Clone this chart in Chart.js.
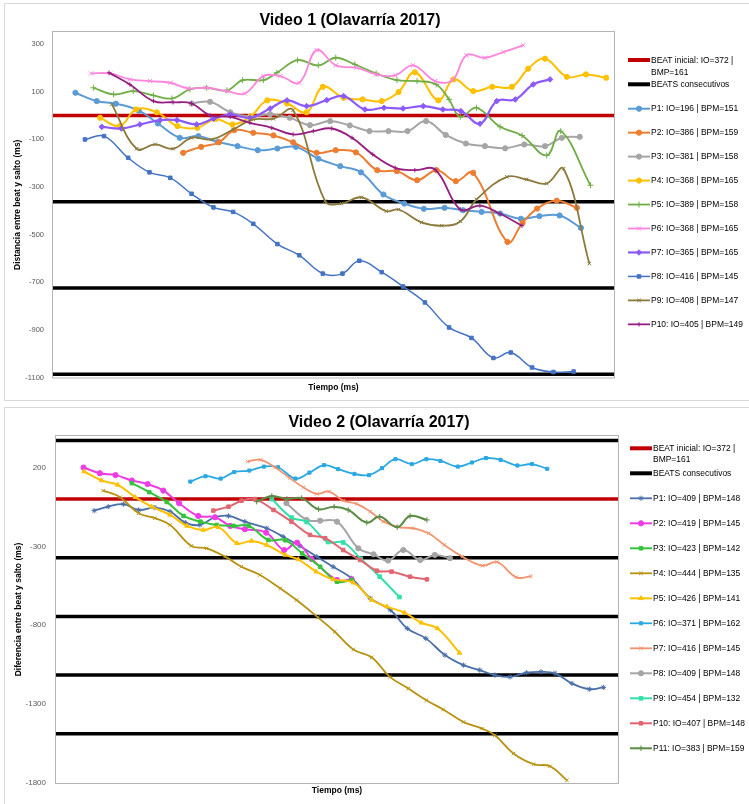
<!DOCTYPE html>
<html>
<head>
<meta charset="utf-8">
<script src="https://cdn.jsdelivr.net/npm/chart.js@4.4.1/dist/chart.umd.min.js"></script>
<style>
  html, body { margin: 0; padding: 0; background: #fff; overflow: hidden; }
  body { width: 749px; height: 804px; position: relative; }
  .panel { position: absolute; left: 4px; width: 760px; border: 1px solid #d9d9d9; }
  #panel1 { top: 3px; height: 396px; }
  #panel2 { top: 407px; height: 400px; }
  canvas { position: absolute; left: 0; }
  #chart1 { top: 0; }
  #chart2 { top: 404px; }
</style>
</head>
<body>
<div class="panel" id="panel1"></div>
<div class="panel" id="panel2"></div>
<canvas id="chart1" width="749" height="400"></canvas>
<canvas id="chart2" width="749" height="400"></canvas>
<script>
// ---- Video 1: [tiempo (0-1000, sin escala), distancia ms] ----
const video1P1 = [[40,95],[78,60],[112,49],[153,20],[187,-34],[226,-94],[259,-87],[294,-112],[329,-129],[365,-146],[400,-139],[433,-132],[473,-182],[512,-213],[549,-239],[589,-332],[626,-370],[661,-392],[698,-388],[731,-398],[764,-405],[797,-412],[834,-434],[867,-423],[903,-420],[941,-472]];
const video1P2 = [[232,-157],[264,-132],[296,-113],[323,-62],[357,-73],[393,-84],[428,-113],[470,-157],[504,-146],[540,-155],[578,-230],[613,-234],[649,-272],[684,-230],[718,-276],[749,-241],[810,-531],[837,-451],[863,-391],[898,-358],[934,-388]];
const video1P3 = [[247,50],[280,57],[316,13],[351,-5],[387,5],[422,-10],[458,-41],[494,-24],[529,-42],[564,-66],[598,-66],[632,-66],[665,-24],[700,-82],[736,-118],[770,-129],[806,-138],[840,-122],[877,-129],[907,-94],[939,-90]];
const video1P4 = [[84,-10],[119,-45],[148,25],[185,13],[222,-45],[257,-52],[290,-15],[320,-38],[352,-5],[382,63],[417,50],[452,13],[481,120],[518,74],[552,67],[586,60],[616,98],[645,181],[687,63],[714,151],[749,102],[783,120],[818,120],[847,196],[877,238],[916,162],[950,172],[986,158]];
const video1P5 = [[72,116],[108,88],[143,102],[179,84],[212,71],[244,109],[274,116],[310,105],[338,148],[375,148],[399,179],[436,232],[473,210],[504,242],[538,214],[576,176],[613,148],[649,144],[683,130],[706,67],[726,-6],[755,32],[797,-48],[836,-84],[880,-168],[905,-66],[958,-293]];
const video1P6 = [[68,176],[102,176],[137,151],[173,144],[209,137],[241,113],[274,116],[310,102],[342,92],[375,165],[405,165],[439,137],[470,274],[504,210],[541,200],[576,172],[610,168],[642,210],[681,144],[712,148],[737,252],[770,242],[803,266],[838,294]];
const video1P7 = [[87,-48],[122,-55],[155,-38],[191,-20],[221,-20],[256,-38],[286,-14],[316,4],[351,-10],[387,29],[417,63],[452,39],[488,64],[518,81],[556,25],[590,32],[624,29],[660,39],[695,25],[727,18],[761,-35],[791,60],[824,67],[856,130],[886,151]];
const video1P8 = [[57,-101],[91,-87],[134,-178],[172,-239],[209,-262],[247,-329],[286,-386],[321,-405],[357,-455],[400,-540],[439,-587],[481,-664],[516,-664],[546,-610],[586,-658],[624,-718],[663,-785],[706,-890],[746,-934],[785,-1018],[816,-995],[854,-1058],[892,-1077],[928,-1075]];
const video1P9 = [[105,46],[149,-140],[182,-122],[214,-140],[247,-94],[283,-101],[321,-59],[357,-17],[393,-14],[428,22],[485,-360],[514,-370],[550,-344],[594,-402],[616,-395],[657,-449],[693,-463],[726,-445],[755,-353],[809,-258],[844,-269],[880,-286],[910,-224],[956,-622]];
const video1P10 = [[100,179],[137,130],[179,60],[214,55],[247,50],[280,0],[316,-6],[351,-31],[390,-52],[428,-80],[464,-66],[497,-55],[533,-94],[570,-164],[610,-220],[645,-230],[681,-227],[726,-395],[761,-379],[797,-413],[836,-463]];
const video1IO = [196, 386, 381, 368, 389, 368, 365, 416, 408, 405];
const video1BPM = [151, 159, 158, 165, 158, 165, 165, 145, 147, 149];
const video1Beats = [-362, -724, -1086];
const video1Ticks = [300, 100, -100, -300, -500, -700, -900, -1100];

// ---- Video 2 ----
const video2P1 = [[68,-73],[93,-48],[120,-32],[147,-69],[176,-54],[203,-79],[230,-149],[256,-164],[283,-115],[307,-107],[336,-143],[375,-185],[404,-238],[434,-297],[464,-365],[493,-429],[526,-502],[559,-629],[595,-703],[625,-820],[658,-883],[692,-989],[725,-1053],[754,-1084],[781,-1116],[808,-1127],[837,-1101],[863,-1095],[888,-1105],[918,-1169],[949,-1205],[974,-1194]];
const video2P2 = [[49,200],[78,164],[106,152],[135,118],[163,95],[191,54],[219,-26],[253,-107],[283,-115],[310,-170],[336,-191],[374,-213],[406,-323],[429,-276],[455,-380],[500,-513],[526,-509]];
const video2P3 = [[135,101],[166,44],[197,-18],[227,-107],[257,-143],[286,-164],[316,-170],[343,-170],[378,-259],[408,-261],[438,-344],[470,-429],[500,-524],[526,-513]];
const video2P4 = [[84,54],[114,12],[147,-90],[176,-121],[203,-164],[241,-297],[268,-312],[301,-365],[330,-429],[363,-481],[399,-566],[428,-640],[466,-750],[496,-841],[529,-953],[562,-1004],[594,-1127],[627,-1201],[659,-1275],[689,-1334],[725,-1413],[758,-1455],[781,-1497],[814,-1613],[850,-1681],[879,-1694],[909,-1783]];
const video2P5 = [[50,175],[81,118],[110,90],[141,12],[170,-48],[203,-100],[233,-170],[262,-196],[289,-178],[322,-280],[348,-265],[375,-291],[408,-354],[431,-382],[463,-460],[493,-509],[529,-530],[562,-640],[589,-682],[620,-720],[650,-784],[679,-820],[718,-975]];
const video2P6 = [[239,111],[266,145],[293,130],[317,171],[344,181],[370,206],[395,202],[426,130],[451,168],[477,215],[502,190],[531,160],[557,152],[580,196],[604,253],[633,222],[659,253],[684,242],[715,206],[740,232],[765,260],[791,249],[821,213],[847,222],[874,192]];
const video2P7 = [[341,238],[364,249],[390,200],[416,133],[440,75],[464,33],[486,48],[511,-10],[535,-30],[559,-79],[583,-143],[610,-178],[636,-185],[663,-217],[691,-291],[723,-365],[759,-422],[785,-399],[819,-496],[845,-490]];
const video2P8 = [[410,-26],[446,-132],[470,-137],[500,-143],[538,-312],[565,-350],[591,-390],[618,-323],[648,-386],[674,-354],[701,-375]];
const video2P9 = [[384,0],[419,-117],[446,-145],[484,-272],[511,-275],[542,-378],[576,-492],[611,-621]];
const video2P10 = [[280,-73],[307,-48],[330,-10],[354,0],[387,-69],[419,-143],[452,-227],[479,-248],[511,-323],[541,-386],[571,-454],[597,-460],[630,-492],[660,-509]];
const video2P11 = [[357,-16],[384,20],[411,0],[437,6],[467,-64],[495,-48],[520,-69],[553,-149],[576,-111],[607,-178],[630,-107],[660,-132]];
const video2IO = [409, 419, 423, 444, 426, 371, 416, 409, 454, 407, 383];
const video2BPM = [148, 145, 142, 135, 141, 162, 145, 148, 132, 148, 159];
const video2Beats = [372, -372, -744, -1116, -1488];
const video2Ticks = [200, -300, -800, -1300, -1800];

const beatLabel = ['BEAT inicial: IO=372 |', 'BMP=161'];
const beatsLabel = 'BEATS consecutivos';

// colour, marker, marker radius, line width
const video1Styles = [
    ['#5B9BD5', 'circle', 2.6, 2],
    ['#ED7D31', 'circle', 2.6, 2],
    ['#A5A5A5', 'circle', 2.6, 2],
    ['#FFC000', 'circle', 2.6, 2],
    ['#70AD47', 'cross', 3, 1.8],
    ['#FF85DC', 'crossRot', 3, 1.8],
    ['#8C5AF8', 'rectRot', 2.8, 2.2],
    ['#4472C4', 'rect', 2.5, 1.5],
    ['#8C7A3C', 'crossRot', 2.5, 1.8],
    ['#951F80', 'cross', 2.2, 1.8]
];
const video2Styles = [
    ['#4A6FA8', 'star', 2.6, 1.8],
    ['#EE3BE6', 'circle', 2.6, 2],
    ['#36C23C', 'rect', 2.5, 2],
    ['#B8920E', 'crossRot', 2.5, 1.8],
    ['#FFC000', 'triangle', 2.6, 2],
    ['#2AA8E2', 'rect', 2.2, 1.8],
    ['#F2936E', 'crossRot', 2.5, 1.8],
    ['#A5A5A5', 'circle', 2.6, 2],
    ['#33E0A8', 'rect', 2.6, 2],
    ['#E06670', 'rect', 2.5, 2],
    ['#5A8C45', 'cross', 2.8, 2]
];

function seriesDataset(label, points, style, i) {
    const [color, pointStyle, radius, width] = style;
    return {
        label: label,
        data: points.map(([x, y]) => ({ x: x, y: y })),
        borderColor: color,
        backgroundColor: color,
        pointStyle: pointStyle,
        pointRadius: radius,
        pointBorderWidth: 1,
        borderWidth: width,
        tension: 0.4,
        order: 50 - i
    };
}

function lineDataset(label, y, color) {
    return {
        label: label,
        data: [{ x: 0, y: y }, { x: 1000, y: y }],
        borderColor: color,
        borderWidth: 3.5,
        pointRadius: 0,
        order: 100
    };
}

// plot frame + title + legend, drawn by hand (Excel style)
const frameAndLegend = {
    id: 'frameAndLegend',
    beforeDatasetsDraw(chart) {
        const { ctx, chartArea } = chart;
        ctx.save();
        ctx.strokeStyle = '#b5b5b5';
        ctx.lineWidth = 1;
        ctx.strokeRect(chartArea.left - 0.5, chartArea.top - 0.5, chartArea.right - chartArea.left + 1, chartArea.bottom - chartArea.top + 1);
        ctx.restore();
    },
    afterDraw(chart, args, opts) {
        const ctx = chart.ctx;
        ctx.save();
        ctx.fillStyle = '#000';
        ctx.textBaseline = 'middle';
        ctx.textAlign = 'center';
        ctx.font = 'bold 16px "Liberation Sans", Arial, sans-serif';
        ctx.fillText(opts.title, opts.titleX, opts.titleY);

        ctx.textAlign = 'left';
        ctx.font = '9.5px "Liberation Sans", Arial, sans-serif';
        const x0 = opts.x;
        const drawText = (t, y) => {
            ctx.save();
            ctx.translate(x0 + 23, y);
            ctx.scale(0.89, 1);
            ctx.fillStyle = '#000';
            ctx.fillText(t, 0, 0);
            ctx.restore();
        };
        const drawLine = (y, color, width) => {
            ctx.strokeStyle = color;
            ctx.lineWidth = width;
            ctx.beginPath();
            ctx.moveTo(x0, y);
            ctx.lineTo(x0 + 22, y);
            ctx.stroke();
        };
        drawLine(opts.beatY, '#C00000', 4);
        drawText(beatLabel[0], opts.beatY);
        drawText(beatLabel[1], opts.beatY + opts.wrap);
        drawLine(opts.beatsY, '#000', 4);
        drawText(beatsLabel, opts.beatsY);

        opts.series.forEach((ds, i) => {
            const y = opts.firstY + i * opts.step;
            drawLine(y, ds.borderColor, ds.borderWidth);
            ctx.fillStyle = ds.borderColor;
            ctx.strokeStyle = ds.borderColor;
            ctx.lineWidth = 1;
            Chart.helpers.drawPoint(ctx, { pointStyle: ds.pointStyle, radius: ds.pointRadius, rotation: 0, borderWidth: 1 }, x0 + 11, y);
            drawText(ds.label, y);
        });
        ctx.restore();
    }
};

Chart.defaults.font.family = '"Liberation Sans", Arial, sans-serif';

function makeChart(canvasId, cfg) {
    const series = cfg.points.map((p, i) => seriesDataset(`P${i + 1}: IO=${cfg.io[i]} | BPM=${cfg.bpm[i]}`, p, cfg.styles[i], i));
    const lines = [lineDataset(beatLabel.join(' '), 0, '#C00000')]
        .concat(cfg.beats.map(b => lineDataset(beatsLabel, b, '#000000')));
    return new Chart(document.getElementById(canvasId), {
        type: 'line',
        data: { datasets: lines.concat(series) },
        options: {
            responsive: false,
            animation: false,
            layout: { padding: { left: 4, right: cfg.padRight, top: 32, bottom: 0 } },
            plugins: {
                legend: { display: false },
                tooltip: { enabled: false },
                frameAndLegend: Object.assign({ series: series }, cfg.legend)
            },
            scales: {
                x: {
                    type: 'linear',
                    min: 0,
                    max: 1000,
                    grid: { display: false, drawTicks: false },
                    border: { display: false },
                    ticks: { display: false },
                    afterFit: s => { s.height = cfg.xHeight; },
                    title: { display: true, text: 'Tiempo (ms)', color: '#000', font: { size: 8.5, weight: 'bold' }, padding: { top: 0, bottom: cfg.xTitlePad } }
                },
                y: {
                    min: cfg.yMin,
                    max: cfg.yMax,
                    afterBuildTicks: s => { s.ticks = cfg.ticks.map(v => ({ value: v })); },
                    afterFit: s => { s.width = cfg.yWidth; },
                    grid: { display: false, drawTicks: false },
                    border: { display: false },
                    ticks: { padding: cfg.tickPad, color: '#595959', font: { size: cfg.tickSize }, callback: v => String(v) },
                    title: { display: true, text: cfg.yTitle, color: '#000', font: { size: 8.5, weight: 'bold' }, padding: { top: cfg.yTitlePad, bottom: 0 } }
                }
            }
        },
        plugins: [frameAndLegend]
    });
}

makeChart('chart1', {
    points: [video1P1, video1P2, video1P3, video1P4, video1P5, video1P6, video1P7, video1P8, video1P9, video1P10],
    io: video1IO, bpm: video1BPM, styles: video1Styles, beats: video1Beats, ticks: video1Ticks,
    yMin: -1100, yMax: 350,
    yTitle: 'Distancia entre beat y salto (ms)',
    padRight: 135, yWidth: 49, xHeight: 22.5, xTitlePad: 7, yTitlePad: 9, tickPad: 9, tickSize: 7.5,
    legend: { title: 'Video 1 (Olavarría 2017)', titleX: 350, titleY: 20.5, x: 628, beatY: 60, wrap: 12, beatsY: 84.3, firstY: 108.7, step: 23.96 }
});

makeChart('chart2', {
    points: [video2P1, video2P2, video2P3, video2P4, video2P5, video2P6, video2P7, video2P8, video2P9, video2P10, video2P11],
    io: video2IO, bpm: video2BPM, styles: video2Styles, beats: video2Beats, ticks: video2Ticks,
    yMin: -1800, yMax: 400,
    yTitle: 'Diferencia entre beat y salto (ms)',
    padRight: 131, yWidth: 52, xHeight: 21, xTitlePad: 8, yTitlePad: 10, tickPad: 10, tickSize: 8,
    legend: { title: 'Video 2 (Olavarría 2017)', titleX: 379, titleY: 18.7, x: 630, beatY: 44.3, wrap: 11, beatsY: 69.3, firstY: 94.3, step: 25 }
});
</script>
</body>
</html>
